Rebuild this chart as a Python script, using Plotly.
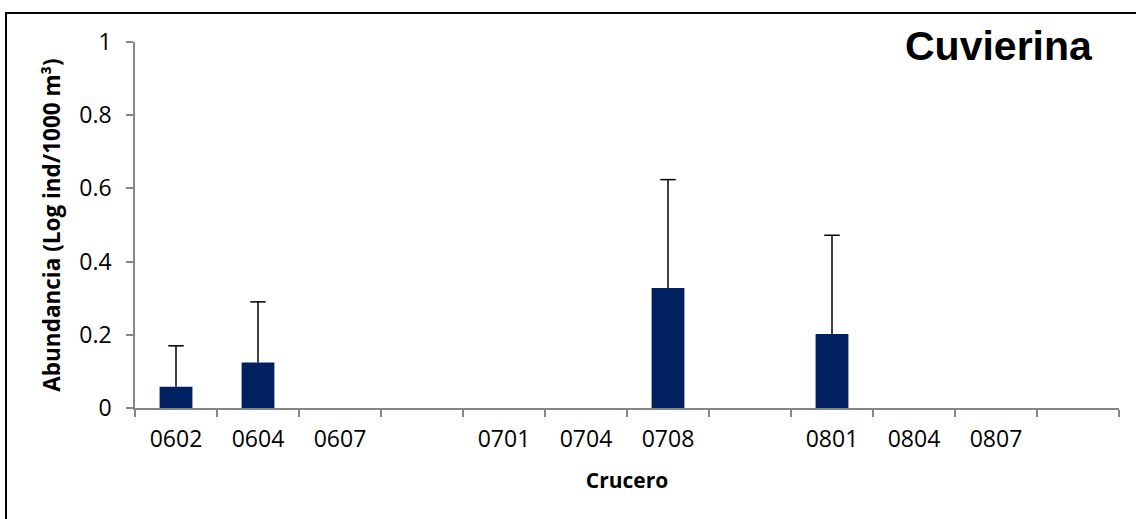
import plotly.graph_objects as go

# ---- data ----
categories = ["0602", "0604", "0607", " ", "0701", "0704", "0708", "  ", "0801", "0804", "0807", "   "]
abundance = [0.058, 0.124, 0, None, 0, 0, 0.328, None, 0.202, 0, 0, None]
error_plus = [0.112, 0.166, None, None, None, None, 0.296, None, 0.270, None, None, None]
y_ticks = [0, 0.2, 0.4, 0.6, 0.8, 1]
y_tick_labels = ["0", "0.2", "0.4", "0.6", "0.8", "1"]

# tops of the error bars (for the caps)
error_tops = [(v + e) if (v is not None and e is not None) else None
              for v, e in zip(abundance, error_plus)]

W, H = 1136, 519
L, R, T, B = 135, 17, 42, 111
pw, ph = W - L - R, H - T - B

FONT = "Open Sans"
AXIS_GRAY = "#868686"

fig = go.Figure()
fig.add_trace(go.Bar(
    x=categories,
    y=abundance,
    width=0.4,
    marker=dict(color="#002060", line=dict(width=0)),
    error_y=dict(type="data", symmetric=False, array=error_plus,
                 arrayminus=[0] * len(error_plus),
                 color="#000000", thickness=1.5, width=0),
    showlegend=False,
))
# error-bar caps
fig.add_trace(go.Scatter(
    x=categories, y=error_tops, mode="markers",
    marker=dict(symbol="line-ew", size=11, color="#000000",
                line=dict(color="#000000", width=1.5)),
    showlegend=False, hoverinfo="skip",
))

fig.update_layout(
    width=W, height=H,
    margin=dict(l=L, r=R, t=T, b=B, pad=0),
    paper_bgcolor="white", plot_bgcolor="white",
    font=dict(family=FONT, color="#000000"),
    bargap=0.6,
    hovermode=False,
    xaxis=dict(
        type="category",
        categoryorder="array", categoryarray=categories,
        range=[-0.5, len(categories) - 0.5],
        showline=True, linecolor=AXIS_GRAY, linewidth=1.5,
        ticks="outside", ticklen=7, tickcolor=AXIS_GRAY, tickwidth=1.5,
        tickson="boundaries",
        showgrid=False, zeroline=False,
        tickfont=dict(family=FONT, size=23, color="#000000"),
        ticklabelstandoff=10,
        title=dict(text="<b>Crucero</b>", font=dict(family=FONT, size=21, color="#000000"), standoff=20),
    ),
    yaxis=dict(
        range=[0, 1],
        tickvals=y_ticks, ticktext=y_tick_labels,
        showline=True, linecolor=AXIS_GRAY, linewidth=1.5,
        ticks="outside", ticklen=7, tickcolor=AXIS_GRAY, tickwidth=1.5,
        showgrid=False, zeroline=False,
        tickfont=dict(family=FONT, size=23, color="#000000"),
        ticklabelstandoff=10,
        title=dict(text="<b>Abundancia (Log ind/1000 m³)</b>", font=dict(family=FONT, size=22.5, color="#000000"), standoff=12),
    ),
)

# Title inside the frame
fig.add_annotation(
    text="<b>Cuvierina</b>", xref="paper", yref="paper",
    x=(999 - L) / pw, y=1 + (T - 46) / ph,
    xanchor="center", yanchor="middle", showarrow=False,
    font=dict(family="Liberation Sans", size=41, color="#000000"),
)

# Outer chart-area frame
fig.add_shape(
    type="rect", xref="paper", yref="paper",
    x0=(6 - L) / pw, x1=(W + 20 - L) / pw,
    y0=-(H + 20 - T - ph) / ph, y1=1 + (T - 13) / ph,
    line=dict(color="#000000", width=2), fillcolor="rgba(0,0,0,0)",
    layer="below",
)

fig.write_html("out.html", config={"displayModeBar": False},
               post_script="document.body.style.margin='0';")
